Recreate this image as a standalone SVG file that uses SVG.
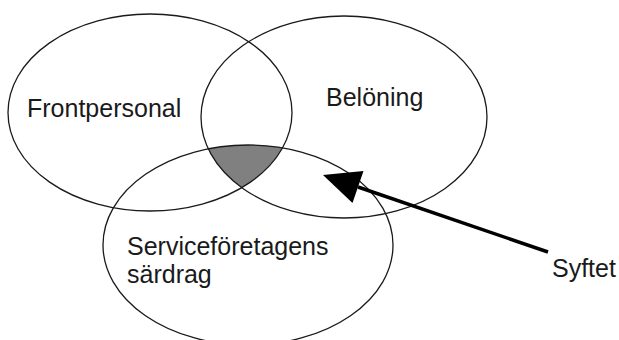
<svg xmlns="http://www.w3.org/2000/svg" width="619" height="340" viewBox="0 0 619 340">
<style>
.ring{fill:none;stroke:#1a1a1a;stroke-width:1.3}
.lbl{font-family:"Liberation Sans",Arial,sans-serif;font-size:25px;fill:#1a1a1a}
.conn{stroke:#000;stroke-width:3.5;fill:none}
</style>
<defs>
<clipPath id="c1"><ellipse cx="150" cy="112.5" rx="142" ry="98.5"/></clipPath>
<clipPath id="c2"><ellipse cx="344" cy="117" rx="143" ry="101"/></clipPath>
<marker id="ah" markerUnits="userSpaceOnUse" markerWidth="40" markerHeight="36" viewBox="0 -18 40 36" refX="0" refY="0" orient="auto" overflow="visible">
<path d="M0,-17 L37,0 L0,17 z" fill="#000"/>
</marker>
</defs>
<rect width="619" height="340" fill="#fff"/>
<g id="overlap">
<g clip-path="url(#c1)"><g clip-path="url(#c2)"><ellipse cx="248" cy="245" rx="145" ry="100" fill="#808080"/></g></g>
</g>
<g id="frontpersonal">
<ellipse class="ring" cx="150" cy="112.5" rx="142" ry="98.5"/>
<text class="lbl" x="27" y="117">Frontpersonal</text>
</g>
<g id="beloning">
<ellipse class="ring" cx="344" cy="117" rx="143" ry="101"/>
<text class="lbl" x="326" y="106">Belöning</text>
</g>
<g id="servicesardrag">
<ellipse class="ring" cx="248" cy="245" rx="145" ry="100"/>
<text class="lbl" x="127" y="255">Serviceföretagens</text>
<text class="lbl" x="127" y="283">särdrag</text>
</g>
<g id="syftet">
<text class="lbl" x="552" y="277">Syftet</text>
</g>
<g id="connectors">
<line class="conn" x1="548" y1="252" x2="358" y2="187" marker-end="url(#ah)"/>
</g>
</svg>
